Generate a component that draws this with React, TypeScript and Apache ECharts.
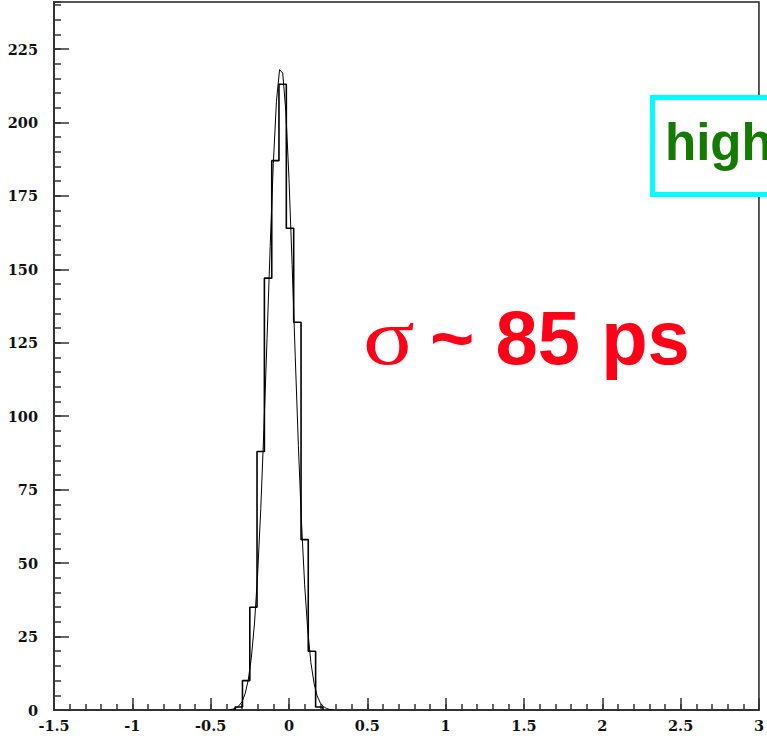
import React, { useEffect, useRef } from "react";
import * as echarts from "echarts";

// Histogram: left bin edges (ns) and counts
const binLeftEdges = [-0.344, -0.297, -0.25, -0.204, -0.157, -0.11, -0.064, -0.017, 0.03, 0.077, 0.123, 0.17];
const binCounts = [1, 10, 35, 88, 147, 187, 213, 164, 132, 58, 20, 1];
const binWidth = 0.0467;

// Fit curve points
const fitX = [-0.38, -0.36, -0.34, -0.32, -0.3, -0.28, -0.26, -0.24, -0.22, -0.2, -0.18, -0.16, -0.14, -0.12, -0.1, -0.08, -0.06, -0.04, -0.02, 0, 0.02, 0.04, 0.06, 0.08, 0.1, 0.12, 0.14, 0.16, 0.18, 0.2, 0.22, 0.24, 0.26, 0.28];
const fitY = [0.1, 0.3, 0.6, 1.4, 2.8, 5.5, 10.2, 17.9, 29.6, 46.4, 68.6, 95.8, 126.5, 157.8, 186, 207.2, 218, 216.8, 203.7, 180.8, 151.7, 120.2, 90, 63.7, 42.6, 26.9, 16.1, 9.1, 4.8, 2.4, 1.2, 0.5, 0.2, 0.1];

const xRange = [-1.5, 3];
const yRange = [0, 241];

const axisColor = "#333";
const labelFont = { fontFamily: "DejaVu Serif", fontWeight: "bold" as const, fontSize: 14.5, color: "#111" };

export default function App() {
  const ref = useRef<HTMLDivElement>(null);
  useEffect(() => {
    if (!ref.current) return;
    const chart = echarts.init(ref.current, undefined, { renderer: "svg" });

    const histData: number[][] = [[binLeftEdges[0], 0]];
    binLeftEdges.forEach((e, i) => histData.push([e, binCounts[i]]));
    const lastEdge = binLeftEdges[binLeftEdges.length - 1] + binWidth;
    histData.push([lastEdge, binCounts[binCounts.length - 1]]);
    histData.push([lastEdge, 0]);

    const fitData = fitX.map((x, i) => [x, fitY[i]]);

    chart.setOption({
      animation: false,
      grid: { left: 54, right: 5, top: 2, bottom: 28, show: true, borderColor: "#222", borderWidth: 1.5, backgroundColor: "transparent" },
      xAxis: [
        {
          type: "value", min: xRange[0], max: xRange[1], interval: 0.5, position: "bottom",
          axisLine: { show: true, onZero: false, lineStyle: { color: axisColor, width: 2 } },
          axisTick: { show: true, inside: true, length: 12, lineStyle: { color: axisColor, width: 1.5 } },
          axisLabel: { ...labelFont, margin: 8 },
          splitLine: { show: false },
        },
        {
          type: "value", min: xRange[0], max: xRange[1], interval: 0.1, position: "bottom",
          axisLine: { show: false, onZero: false },
          axisTick: { show: true, inside: true, length: 6, lineStyle: { color: axisColor, width: 1.5 } },
          axisLabel: { show: false },
          splitLine: { show: false },
        },
      ],
      yAxis: [
        {
          type: "value", min: yRange[0], max: yRange[1], interval: 25, position: "left",
          axisLine: { show: true, onZero: false, lineStyle: { color: axisColor, width: 2 } },
          axisTick: { show: true, inside: true, length: 15, lineStyle: { color: axisColor, width: 1.5 } },
          axisLabel: { ...labelFont, margin: 16, showMaxLabel: false },
          splitLine: { show: false },
        },
        {
          type: "value", min: yRange[0], max: yRange[1], interval: 5, position: "left",
          axisLine: { show: false, onZero: false },
          axisTick: { show: true, inside: true, length: 7, lineStyle: { color: axisColor, width: 1.5 } },
          axisLabel: { show: false },
          splitLine: { show: false },
        },
      ],
      series: [
        {
          type: "line", xAxisIndex: 0, yAxisIndex: 0, step: "end", data: histData,
          showSymbol: false, symbol: "none", silent: true,
          lineStyle: { color: "#000", width: 1.6 },
        },
        {
          type: "line", xAxisIndex: 0, yAxisIndex: 0, data: fitData,
          showSymbol: false, symbol: "none", silent: true,
          lineStyle: { color: "#000", width: 1 },
        },
      ],
      graphic: [
        {
          type: "rect", z: 100,
          shape: { x: 652.5, y: 97.5, width: 200, height: 97 },
          style: { fill: "#fff", stroke: "#00ffff", lineWidth: 5 },
        },
        {
          type: "text", z: 101, x: 665, y: 142,
          style: { text: "high", fill: "#157a00", font: 'bold 51px "Liberation Sans"', textAlign: "left", textVerticalAlign: "middle", align: "left", verticalAlign: "middle" },
        },
        {
          type: "text", z: 101, x: 363, y: 337, scaleX: 1.2,
          style: { text: "σ", fill: "#ff0018", font: '80px "Liberation Serif"', textAlign: "left", textVerticalAlign: "middle", align: "left", verticalAlign: "middle" },
        },
        {
          type: "text", z: 101, x: 430, y: 337,
          style: { text: "~ 85 ps", fill: "#ff0018", font: 'bold 76px "Liberation Sans"', textAlign: "left", textVerticalAlign: "middle", align: "left", verticalAlign: "middle" },
        },
      ],
    });
    return () => chart.dispose();
  }, []);
  return <div ref={ref} style={{ position: "fixed", left: 0, top: 0, width: 767, height: 738, background: "#fff" }} />;
}
